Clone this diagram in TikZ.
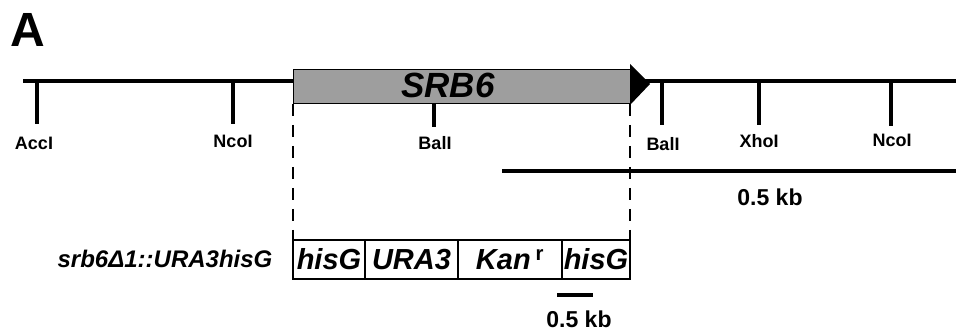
\documentclass[tikz,border=0pt]{standalone}
\usepackage{fontspec}
\setmainfont{Liberation Sans}
\begin{document}
\begin{tikzpicture}[x=1pt,y=-1pt,
  site/.style={font=\fontsize{18}{20}\selectfont\bfseries, inner sep=0pt},
  tick/.style={line width=3.5pt},
  cell/.style={draw, line width=2pt, minimum height=39pt, inner sep=0pt, outer sep=0pt, anchor=north west,
    font=\fontsize{29}{32}\selectfont\bfseries\itshape},
  dashline/.style={line width=2.5pt, dash pattern=on 12pt off 9pt},
  kb/.style={font=\fontsize{23}{26}\selectfont\bfseries, inner sep=0pt}]
\useasboundingbox (0,0) rectangle (956,331);
% panel letter
\node[font=\fontsize{48}{50}\selectfont\bfseries, inner sep=0pt] (A) at (28,30) {A};
% main line
\coordinate (L0) at (23,81);
\coordinate (L1) at (956,81);
\draw[line width=4pt] (L0) -- (L1);
% gene box
\node[draw, line width=1pt, fill=black!38, minimum width=337pt, minimum height=34pt,
  inner sep=0pt, outer sep=0pt, anchor=north west] (srb) at (293,70) {};
\node[font=\fontsize{35}{38}\selectfont\bfseries\itshape, inner sep=0pt] (srbt) at (448,85) {SRB6};
\coordinate (t1) at (630,64);
\coordinate (t2) at (650,84);
\coordinate (t3) at (630,105);
\fill (t1) -- (t2) -- (t3) -- cycle;
% restriction sites
\coordinate (s1) at (37,81);  \coordinate (e1) at (37,124);
\coordinate (s2) at (233,81); \coordinate (e2) at (233,124);
\coordinate (s3) at (434,104); \coordinate (e3) at (434,127);
\coordinate (s4) at (662,81); \coordinate (e4) at (662,125);
\coordinate (s5) at (759,81); \coordinate (e5) at (759,125);
\coordinate (s6) at (891,81); \coordinate (e6) at (891,126);
\foreach \i in {1,...,6} {\draw[tick] (s\i) -- (e\i);}
\node[site] (AccI) at (34,143.5) {AccI};
\node[site] (NcoI) at (233,141) {NcoI};
\node[site] (BalIa) at (435,143.5) {BalI};
\node[site] (BalIb) at (663,144) {BalI};
\node[site] (XhoI) at (759,141.5) {XhoI};
\node[site] (NcoIb) at (892,140.5) {NcoI};
% upper scale
\coordinate (u0) at (502,171);
\coordinate (u1) at (956,171);
\draw[line width=3.5pt] (u0) -- (u1);
\node[kb] (kb1) at (770,197) {0.5 kb};
% construct
\node[cell, minimum width=72pt] (c1) at (293,240) {hisG};
\node[cell, minimum width=93pt] (c2) at (c1.north east) {URA3};
\node[cell, minimum width=104pt] (c3) at (c2.north east) {Kan\,\textsuperscript{\upshape r}};
\node[cell, minimum width=68pt] (c4) at (c3.north east) {hisG};
\node[font=\fontsize{24}{27}\selectfont\bfseries\itshape, inner sep=0pt] (lab) at (165,259) {srb6Δ1::URA3hisG};
% dashed projections
\draw[dashline] (srb.south west) -- (c1.north west);
\draw[dashline] (srb.south east) -- (c4.north east);
% lower scale
\coordinate (b0) at (557,295);
\coordinate (b1) at (593,295);
\draw[line width=3.5pt] (b0) -- (b1);
\node[kb] (kb2) at (579,319) {0.5 kb};
\end{tikzpicture}
\end{document}
